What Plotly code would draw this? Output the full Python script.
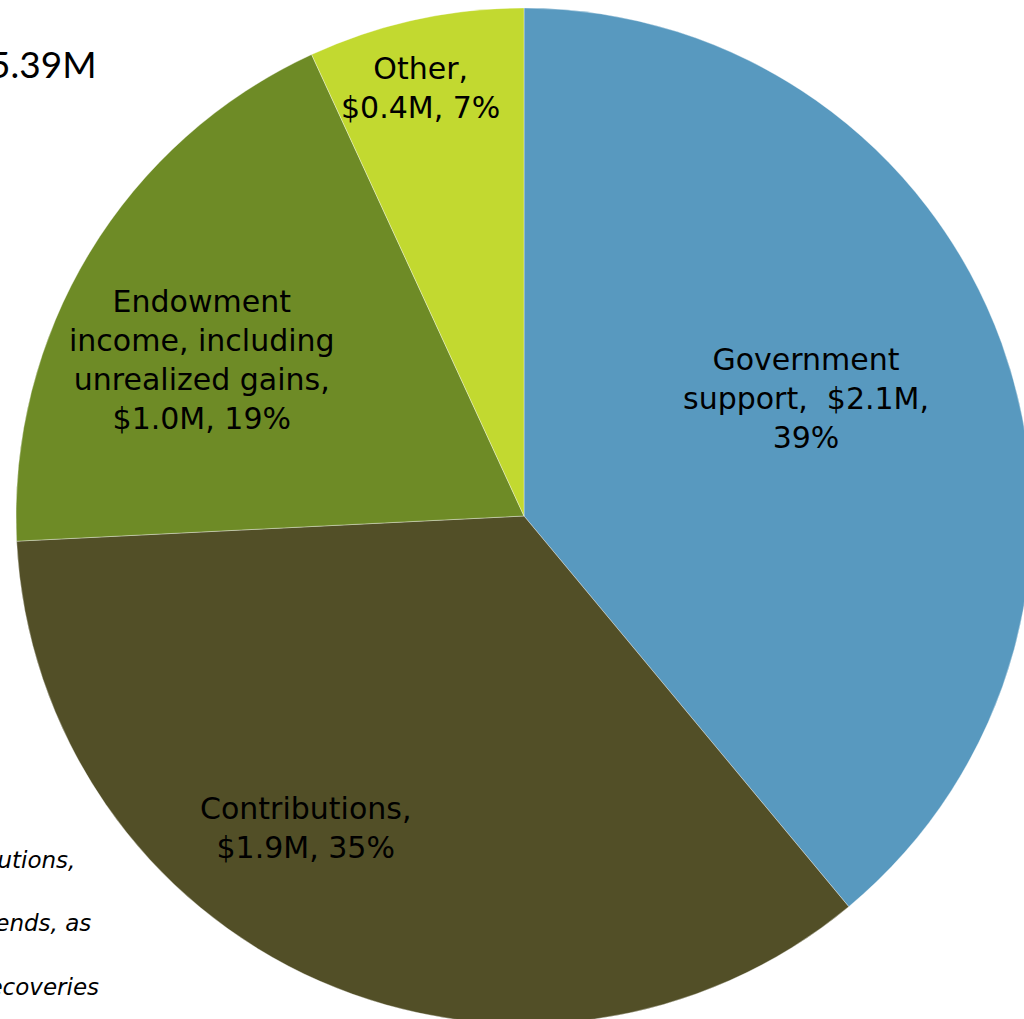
import plotly.graph_objects as go

# Data
categories = ["Government<br>support,\u00a0 ", "Contributions,<br>", "Endowment<br>income, including<br>unrealized gains,<br>", "Other,<br>"]
names = ["Government support", "Contributions", "Endowment income, including unrealized gains", "Other"]
values = [2.10, 1.90, 1.02, 0.37]  # $M
colors = ["#5899BF", "#524F27", "#6E8B26", "#C2D930"]
label_sep = ["<br>", " ", " ", " "]
total_title = "Total Revenue: $%.2fM" % sum(values)
footnotes = ["*Revenue includes contributions,", "interest and dividends, as", "well as indirect cost recoveries"]

W, H = 1048, 1032
cx, cy, R = 524, 516, 508

fig = go.Figure(go.Pie(
    labels=names,
    values=values,
    sort=False,
    direction="clockwise",
    rotation=0,
    marker=dict(colors=colors, line=dict(color="rgba(255,255,255,0.35)", width=1)),
    textinfo="none",
    hoverinfo="label+value+percent",
    showlegend=False,
    domain=dict(x=[(cx - R) / W, (cx + R) / W], y=[(H - cy - R) / H, (H - cy + R) / H]),
))

total = sum(values)
label_pos = [(806, 398), (305, 828), (202, 360), (420, 88)]
for cat, v, sep, (px, py) in zip(categories, values, label_sep, label_pos):
    txt = f"{cat}${v:.1f}M,{sep}{round(v / total * 100)}%"
    fig.add_annotation(x=px / W, y=1 - py / H, xref="paper", yref="paper",
                       text=txt, showarrow=False, xanchor="center", yanchor="middle",
                       font=dict(family="DejaVu Sans, sans-serif", size=30, color="#000"))

fig.add_annotation(x=99 / W, y=1 - 63 / H, xref="paper", yref="paper", text=total_title,
                   showarrow=False, xanchor="right", yanchor="middle",
                   font=dict(family="Lato, Noto Sans, sans-serif", size=37, color="#000"))

foot_pos = [(77, 860), (93, 923), (101, 987)]
for t, (px, py) in zip(footnotes, foot_pos):
    fig.add_annotation(x=px / W, y=1 - py / H, xref="paper", yref="paper", text=f"<i>{t}</i>",
                       showarrow=False, xanchor="right", yanchor="middle",
                       font=dict(family="DejaVu Sans, sans-serif", size=23, color="#000"))

fig.update_layout(width=W, height=H, margin=dict(l=0, r=0, t=0, b=0),
                  paper_bgcolor="white", plot_bgcolor="white")

fig.write_html("out.html", post_script="document.body.style.overflow='hidden';document.documentElement.style.overflow='hidden';document.body.style.margin='0';")
